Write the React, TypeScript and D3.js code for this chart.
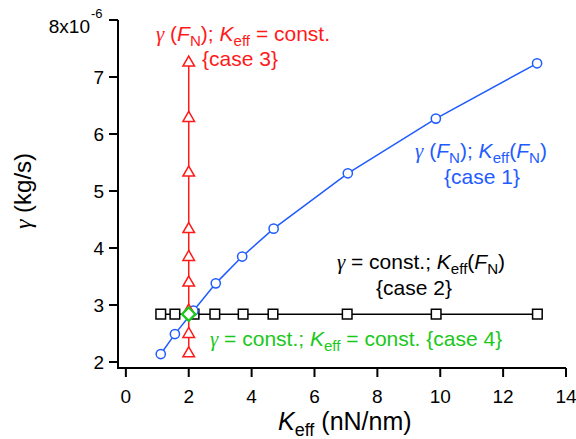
import React from 'react';
import * as d3 from 'd3';

// values
const xTicks = [0, 2, 4, 6, 8, 10, 12, 14];
const yTicks = [2, 3, 4, 5, 6, 7, 8];

// case 1: gamma(FN), Keff(FN)
const kEffCase1 = [1.11, 1.56, 2.15, 2.86, 3.7, 4.7, 7.06, 9.86, 13.08];
const gammaCase1 = [2.14, 2.49, 2.9, 3.38, 3.85, 4.34, 5.31, 6.27, 7.24];
// case 2: gamma const, Keff(FN)
const kEffCase2 = [1.11, 1.56, 2.17, 2.83, 3.73, 4.68, 7.04, 9.87, 13.09];
const gammaCase2 = [2.84, 2.84, 2.84, 2.84, 2.84, 2.84, 2.84, 2.84, 2.84];
// case 3: gamma(FN), Keff const
const kEffCase3 = [2, 2, 2, 2, 2, 2, 2, 2, 2];
const gammaCase3 = [2.15, 2.49, 2.9, 3.39, 3.84, 4.33, 5.32, 6.28, 7.25];
// case 4: both const
const kEffCase4 = [2];
const gammaCase4 = [2.84];

const RED = '#ff1a1a';
const BLUE = '#1f5cff';
const GREEN = '#19c819';
const FONT = '"Liberation Sans", Arial, sans-serif';

const W = 576;
const H = 439;

const x = d3.scaleLinear().domain([-0.25, 14]).range([118, 566]);
const y = d3.scaleLinear().domain([1.895, 8]).range([368, 20]);

const zip = (xs: number[], ys: number[]) => xs.map((v, i) => [v, ys[i]] as [number, number]);

const line = d3.line<[number, number]>()
  .x(d => x(d[0]))
  .y(d => y(d[1]));

// greek gamma in a serif italic, like the original
const G = () => <tspan fontFamily='"Liberation Serif", serif' fontStyle="italic">γ</tspan>;

// italic symbol with a subscript; `rest` goes back on the baseline
function Sub({ sym, sub, size, rest }: { sym: string; sub: string; size: number; rest: string }) {
  const d = size * 0.22;
  return (
    <>
      <tspan fontStyle="italic">{sym}</tspan>
      <tspan fontSize={size * 0.72} dy={d}>{sub}</tspan>
      <tspan dy={-d}>{rest}</tspan>
    </>
  );
}

export default function App() {
  const fs = 21;
  const triangle = d3.symbol().type(d3.symbolTriangle).size(58)();
  const square = d3.symbol().type(d3.symbolSquare).size(92)();
  const diamond = d3.symbol().type(d3.symbolDiamond2).size(115)();

  return (
    <svg width={W} height={H} style={{ position: 'absolute', left: 0, top: 0 }} fontFamily={FONT}>
      <rect width={W} height={H} fill="#fff" />

      {/* axes */}
      <g stroke="#000" strokeWidth={2} fill="none">
        <path d={`M${x.range()[0]},${y(8)}V${y.range()[0]}H${x(14)}`} />
        {yTicks.map(t => (
          <line key={t} x1={x.range()[0] - 9} x2={x.range()[0]} y1={y(t)} y2={y(t)} />
        ))}
        {xTicks.map(t => (
          <line key={t} x1={x(t)} x2={x(t)} y1={y.range()[0]} y2={y.range()[0] + 9} />
        ))}
      </g>
      <g fontSize={19} fill="#000">
        {yTicks.map(t => t === 8 ? (
          <text key={t} x={90} y={33} textAnchor="end">8x10</text>
        ) : (
          <text key={t} x={104} y={y(t)} textAnchor="end" dominantBaseline="central">{t}</text>
        ))}
        <text x={91} y={18} fontSize={13}>-6</text>
        {xTicks.map(t => (
          <text key={t} x={x(t)} y={403} textAnchor="middle">{t}</text>
        ))}
      </g>

      {/* axis labels */}
      <text x={278} y={430} fontSize={25}>
        <Sub sym="K" sub="eff" size={25} rest=" (nN/nm)" />
      </text>
      <text transform="translate(31,191) rotate(-90)" textAnchor="middle" fontSize={24}>
        <G /> (kg/s)
      </text>

      {/* case 2 */}
      <path d={line(zip(kEffCase2, gammaCase2)) ?? ''} stroke="#000" strokeWidth={1.5} fill="none" />
      {zip(kEffCase2, gammaCase2).map((d, i) => (
        <path key={i} d={square ?? ''} transform={`translate(${x(d[0])},${y(d[1])})`}
          fill="#fff" stroke="#000" strokeWidth={1.5} />
      ))}

      {/* case 1 */}
      <path d={line(zip(kEffCase1, gammaCase1)) ?? ''} stroke={BLUE} strokeWidth={1.5} fill="none" />
      {zip(kEffCase1, gammaCase1).map((d, i) => (
        <circle key={i} cx={x(d[0])} cy={y(d[1])} r={4.6} fill="#fff" stroke={BLUE} strokeWidth={1.5} />
      ))}

      {/* case 3 */}
      <path d={line(zip(kEffCase3, gammaCase3)) ?? ''} stroke={RED} strokeWidth={1.5} fill="none" />
      {zip(kEffCase3, gammaCase3).map((d, i) => (
        <path key={i} d={triangle ?? ''} transform={`translate(${x(d[0])},${y(d[1])})`}
          fill="#fff" stroke={RED} strokeWidth={1.5} />
      ))}

      {/* case 4 */}
      {zip(kEffCase4, gammaCase4).map((d, i) => (
        <path key={i} d={diamond ?? ''} transform={`translate(${x(d[0])},${y(d[1])})`}
          fill="#fff" stroke={GREEN} strokeWidth={2.2} />
      ))}

      {/* annotations */}
      <g fontSize={fs} textAnchor="middle">
        <text x={243} y={41} fill={RED}>
          <G /> (<Sub sym="F" sub="N" size={fs} rest="); " />
          <Sub sym="K" sub="eff" size={fs} rest=" = const." />
        </text>
        <text x={240} y={66} fill={RED}>{'{case 3}'}</text>

        <text x={481} y={158} fill={BLUE}>
          <G /> (<Sub sym="F" sub="N" size={fs} rest="); " />
          <Sub sym="K" sub="eff" size={fs} rest="(" />
          <Sub sym="F" sub="N" size={fs} rest=")" />
        </text>
        <text x={482} y={184} fill={BLUE}>{'{case 1}'}</text>

        <text x={421} y={269} fill="#000">
          <G /> = const.; <Sub sym="K" sub="eff" size={fs} rest="(" />
          <Sub sym="F" sub="N" size={fs} rest=")" />
        </text>
        <text x={414} y={295} fill="#000">{'{case 2}'}</text>

        <text x={210} y={346} fill={GREEN} textAnchor="start">
          <G /> = const.; <Sub sym="K" sub="eff" size={fs} rest=" = const. {case 4}" />
        </text>
      </g>
    </svg>
  );
}
